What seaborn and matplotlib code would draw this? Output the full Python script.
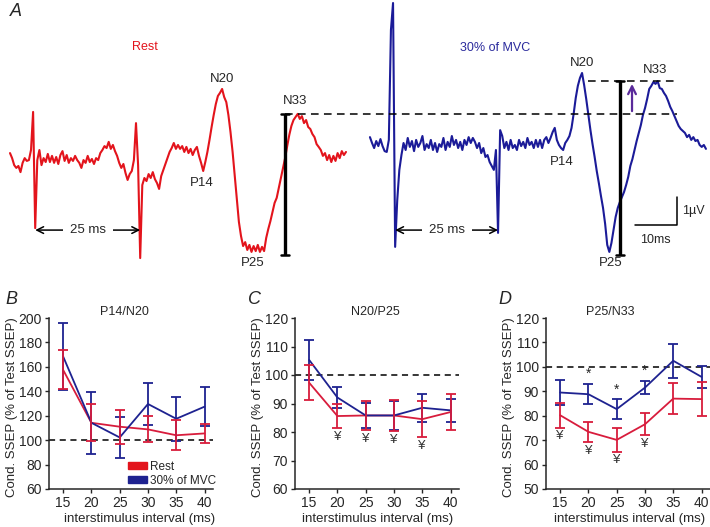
import numpy as np
import pandas as pd
import matplotlib
matplotlib.use("Agg")
import matplotlib.pyplot as plt
from matplotlib.patches import Patch
import seaborn as sns

sns.set_style("ticks")
plt.rcParams['font.family'] = ['Liberation Sans', 'DejaVu Sans']

RED = "#e3141c"
BLUE = "#1b1b98"
RED2 = "#d81c3c"
BLUE2 = "#1e2290"
PURPLE = "#5a2a9a"

# Panel A: averaged SSEP traces, one sample every 0.5 ms (amplitude in uV)
DT = 0.5
rest_uv = [0.14, -0.04, -0.29, -0.39, -0.32, -0.54, -0.21, -0.04, -0.14, -0.11,
           0.25, 1.61, -2.54, -0.11, 0.25, -0.29, -0.04, -0.18, 0.11, -0.18,
           0.04, -0.21, 0.00, -0.25, 0.07, 0.21, -0.14, 0.07, -0.21, -0.04,
           -0.14, 0.04, -0.11, -0.21, -0.39, -0.11, -0.21, 0.04, -0.18, -0.07,
           -0.25, -0.04, -0.11, 0.14, 0.25, 0.39, 0.32, 0.54, 0.29, 0.43,
           0.21, 0.04, -0.21, -0.39, -0.25, -0.57, -0.82, -0.61, -0.50, -0.11,
           1.21, -0.29, -3.61, -1.00, -0.75, -0.86, -0.61, -0.75, -0.54, -0.79,
           -0.93, -1.14, -0.68, -0.46, -0.25, -0.04, 0.18, 0.32, 0.50, 0.29,
           0.43, 0.29, 0.39, 0.18, 0.36, 0.14, 0.29, 0.07, 0.25, 0.36,
           0.04, -0.21, -0.50, -0.18, 0.18, 0.61, 1.07, 1.50, 1.89, 2.18,
           2.29, 2.43, 2.14, 1.96, 1.50, 0.89, 0.18, -0.64, -1.46, -2.32,
           -2.82, -3.18, -3.04, -3.32, -3.14, -3.39, -3.18, -3.36, -3.14, -3.39,
           -3.21, -3.36, -2.89, -2.57, -2.29, -1.96, -1.64, -1.46, -1.11, -0.75,
           -0.39, -0.04, 0.39, 0.79, 1.11, 1.32, 1.43, 1.54, 1.36, 1.46,
           1.21, 1.32, 1.07, 1.00, 0.82, 0.71, 0.46, 0.36, 0.25, 0.04,
           0.14, -0.11, 0.07, -0.18, 0.04, -0.14, 0.14, -0.04, 0.21, 0.07,
           0.18]
mvc_uv = [0.71, 0.50, 0.32, 0.57, 0.39, 0.64, 0.39, 0.21, 0.18, 0.61,
          4.54, 5.50, -3.21, -1.54, -0.46, 0.07, 0.50, 0.25, 0.68, 0.36,
          0.57, 0.21, 0.61, 0.36, 0.50, 0.75, 0.25, 0.46, 0.32, 0.61,
          0.25, 0.50, 0.18, 0.46, 0.36, 0.68, 0.25, 0.54, 0.36, 0.75,
          0.43, 0.61, 0.32, 0.54, 0.25, 0.61, 0.43, 0.71, 0.50, 0.68,
          0.54, 0.32, 0.50, 0.14, 0.32, 0.00, 0.07, -0.18, -0.32, -0.46,
          0.25, -2.71, 0.96, 0.75, 0.32, 0.54, 0.25, 0.61, 0.32, 0.43,
          0.25, 0.61, 0.39, 0.54, 0.32, 0.68, 0.43, 0.54, 0.32, 0.61,
          0.36, 0.61, 0.32, 0.61, 0.71, 0.50, 0.68, 0.89, 1.04, 0.61,
          0.43, 0.32, 0.25, 0.50, 0.61, 0.75, 1.04, 1.54, 2.11, 2.54,
          2.82, 3.00, 2.57, 2.07, 1.50, 0.96, 0.46, 0.00, -0.50, -0.93,
          -1.39, -1.82, -2.39, -3.14, -3.39, -3.07, -2.61, -2.14, -1.82, -1.61,
          -1.43, -1.25, -1.00, -0.71, -0.32, -0.07, 0.25, 0.57, 0.86, 1.14,
          1.50, 1.75, 2.07, 2.43, 2.54, 2.68, 2.61, 2.71, 2.46, 2.43,
          2.29, 2.18, 2.00, 1.79, 1.64, 1.46, 1.29, 1.11, 1.00, 0.93,
          0.86, 0.71, 0.79, 0.61, 0.71, 0.57, 0.61, 0.43, 0.36, 0.43,
          0.29]
MVC_SHIFT = 85.7  # ms, where the second trace starts in the layout

# Panels B-D: conditioned SSEP (% of test), mean and SEM
isi = [15, 20, 25, 30, 35, 40]
b_rest = [157.5, 114.2, 111.0, 108.8, 104.0, 105.5]
b_rest_err = [16.0, 15.3, 14.0, 10.7, 12.3, 8.0]
b_mvc = [168.5, 114.2, 102.2, 129.6, 117.5, 127.4]
b_mvc_err = [27.2, 25.4, 17.1, 17.3, 17.9, 15.8]

c_rest = [97.3, 85.6, 85.8, 85.8, 84.5, 87.0]
c_rest_err = [6.2, 4.2, 5.1, 5.5, 6.4, 6.2]
c_mvc = [105.3, 92.1, 85.8, 85.8, 88.5, 87.6]
c_mvc_err = [7.1, 3.6, 4.5, 5.0, 5.0, 4.0]

d_rest = [80.2, 73.4, 70.1, 76.5, 87.0, 86.8]
d_rest_err = [5.1, 4.1, 4.8, 4.5, 6.3, 7.0]
d_mvc = [89.5, 88.8, 82.7, 91.5, 102.5, 95.9]
d_mvc_err = [5.3, 4.2, 4.0, 2.8, 7.0, 4.6]

c_yen = [20, 25, 30, 35]
d_yen = [15, 20, 25, 30]
d_star = [20, 25, 30]

fig = plt.figure(figsize=(7.10, 5.27), dpi=100)

# ---------------- panel A ----------------
axA = fig.add_axes([0, 1 - 270 / 527, 1, 270 / 527])
axA.set_xlim(-10 / 4.2, 700 / 4.2)
axA.set_ylim(-113 / 28, 157 / 28)
axA.axis('off')

rest_uv = np.array(rest_uv)
mvc_uv = np.array(mvc_uv)
t_rest = np.arange(len(rest_uv)) * DT
t_mvc = np.arange(len(mvc_uv)) * DT + MVC_SHIFT

sns.lineplot(x=t_rest, y=rest_uv, ax=axA, color=RED, lw=1.5, estimator=None, sort=False)
sns.lineplot(x=t_mvc, y=mvc_uv, ax=axA, color=BLUE, lw=1.5, estimator=None, sort=False)


def peak(sig, lo, hi, fn):
    return lo + int(fn(sig[lo:hi]))


def label(t, sig, k, txt, dx, dy, va):
    axA.annotate(txt, (t[k], sig[k]), xytext=(dx, dy), textcoords='offset points',
                 ha='center', va=va, fontsize=9.5)


for t, sig in ((t_rest, rest_uv), (t_mvc, mvc_uv)):
    k20 = peak(sig, 90, 110, np.argmax)
    k14 = peak(sig, 85, 96, np.argmin)
    k25 = peak(sig, 105, 125, np.argmin)
    k33 = peak(sig, 125, 150, np.argmax)
    label(t, sig, k20, 'N20', 0, 3, 'bottom')
    label(t, sig, k14, 'P14', -1, -4, 'top')
    label(t, sig, k25, 'P25', 1, -4, 'top')
    label(t, sig, k33, 'N33', -2, 4 if t is t_mvc else 5, 'bottom')

n33_rest = rest_uv[125:150].max()
n33_mvc = mvc_uv[125:150].max()
p25_rest = rest_uv[105:125].min()
p25_mvc = mvc_uv[105:125].min()

# amplitude bars
for xb, top, bot in ((65.5, n33_rest, p25_rest - 0.1), (59.5 + MVC_SHIFT, n33_mvc, p25_mvc - 0.1)):
    axA.plot([xb, xb], [bot, top], color='black', lw=2.4, solid_capstyle='butt')
    for yy in (bot, top):
        axA.plot([xb - 1.0, xb + 1.0], [yy, yy], color='black', lw=1.8)

x_end = 73.1 + MVC_SHIFT
axA.plot([65.5, x_end], [n33_rest, n33_rest], color='black', lw=1.1, ls=(0, (5, 3.5)))
axA.plot([51.9 + MVC_SHIFT, x_end], [n33_mvc, n33_mvc], color='black', lw=1.1, ls=(0, (5, 3.5)))
axA.annotate('', xy=(62.4 + MVC_SHIFT, n33_mvc), xytext=(62.4 + MVC_SHIFT, n33_rest),
             arrowprops=dict(arrowstyle='->', color=PURPLE, lw=1.6, mutation_scale=14))

# 25 ms interval arrows
for t0, t1 in ((t_rest[12], t_rest[62]), (t_mvc[12], t_mvc[61])):
    axA.annotate('', xy=(t0, -2.61), xytext=(t1, -2.61),
                 arrowprops=dict(arrowstyle='<->', color='black', lw=1.1, mutation_scale=12,
                                 shrinkA=0, shrinkB=0))
    axA.text((t0 + t1) / 2, -2.61, '25 ms', ha='center', va='center', fontsize=9.5,
             bbox=dict(fc='white', ec='none', pad=5))

# scale bar
axA.plot([148.8, x_end, x_end], [-2.43, -2.43, -1.43], color='black', lw=1.1)
axA.text(x_end + 1.2, -1.93, '1\u00b5V', ha='left', va='center', fontsize=9)
axA.text(x_end - 5.2, -2.75, '10ms', ha='center', va='top', fontsize=9)

fig.text(10 / 710, 1 - 3 / 527, 'A', style='italic', fontsize=13, ha='left', va='top')
fig.text(145 / 710, 1 - 47 / 527, 'Rest', color=RED, fontsize=9, ha='center', va='center')
fig.text(495 / 710, 1 - 48 / 527, '30% of MVC', color='#2a2a9c', fontsize=9, ha='center', va='center')

# ---------------- panels B-D ----------------
def ssep_panel(rect, rest, rest_err, mvc, mvc_err, ylim, step, title, title_x, xlab_x):
    ax = fig.add_axes(rect)
    ax.axhline(100, color='black', lw=1.1, ls=(0, (4, 3)), zorder=1)
    df = pd.DataFrame({'isi': isi * 2, 'value': rest + mvc,
                       'condition': ['Rest'] * len(isi) + ['30% of MVC'] * len(isi)})
    sns.lineplot(data=df, x='isi', y='value', hue='condition',
                 palette={'Rest': RED2, '30% of MVC': BLUE2}, estimator=None,
                 lw=1.3, legend=False, ax=ax, zorder=3)
    ax.errorbar(isi, mvc, yerr=mvc_err, fmt='none', ecolor=BLUE2, elinewidth=1.3,
                capsize=3.5, capthick=1.3, zorder=3)
    ax.errorbar(isi, rest, yerr=rest_err, fmt='none', ecolor=RED2, elinewidth=1.3,
                capsize=3.5, capthick=1.3, zorder=4)
    ax.set_xlim(12.5, 41.5)
    ax.set_ylim(*ylim)
    ax.set_xticks(isi)
    ax.set_yticks(np.arange(ylim[0], ylim[1] + 1, step))
    ax.tick_params(labelsize=10, length=3, width=1, pad=2)
    sns.despine(ax=ax)
    for s in ('left', 'bottom'):
        ax.spines[s].set_linewidth(1.1)
    ax.set_xlabel('interstimulus interval (ms)', fontsize=9.5)
    ax.set_ylabel('Cond. SSEP (% of Test SSEP)', fontsize=9.5)
    ax.xaxis.set_label_coords(xlab_x, -0.14)
    ax.yaxis.set_label_coords(-0.19, 0.48)
    ax.text(title_x, 1.0, title, transform=ax.transAxes, ha='center', va='bottom', fontsize=9)
    return ax


top = 1 - 318 / 527
h = 171 / 527
w = 164 / 710
axB = ssep_panel([49 / 710, top - h, w, h], b_rest, b_rest_err, b_mvc, b_mvc_err,
                 (60, 200), 20, 'P14/N20', 0.463, 0.555)
axC = ssep_panel([295 / 710, top - h, w, h], c_rest, c_rest_err, c_mvc, c_mvc_err,
                 (60, 120), 10, 'N20/P25', 0.488, 0.506)
axD = ssep_panel([546 / 710, top - h, w, h], d_rest, d_rest_err, d_mvc, d_mvc_err,
                 (50, 120), 10, 'P25/N33', 0.39, 0.512)

handles = [Patch(color=RED, label='Rest'), Patch(color=BLUE2, label='30% of MVC')]
axB.legend(handles=handles, loc='lower left', bbox_to_anchor=(0.47, 0.0), frameon=False,
           fontsize=8.5, handlelength=1.6, handleheight=0.6, handletextpad=0.2,
           labelspacing=0.15, borderpad=0, borderaxespad=0.2)

# significance marks
for x in c_yen:
    i = isi.index(x)
    axC.annotate('\u00a5', (x, c_rest[i] - c_rest_err[i]), xytext=(0, -2), textcoords='offset points',
                 ha='center', va='top', fontsize=9.5, color='#333333')
for x in d_yen:
    i = isi.index(x)
    axD.annotate('\u00a5', (x, d_rest[i] - d_rest_err[i]), xytext=(0, -2), textcoords='offset points',
                 ha='center', va='top', fontsize=9.5, color='#333333')
for x in d_star:
    i = isi.index(x)
    axD.annotate('*', (x, d_mvc[i] + d_mvc_err[i]), xytext=(0, 2), textcoords='offset points',
                 ha='center', va='bottom', fontsize=10)

fig.text(5 / 710, 1 - 291 / 527, 'B', style='italic', fontsize=13, ha='left', va='top')
fig.text(248 / 710, 1 - 291 / 527, 'C', style='italic', fontsize=13, ha='left', va='top')
fig.text(498 / 710, 1 - 291 / 527, 'D', style='italic', fontsize=13, ha='left', va='top')

fig.savefig('out.png', dpi=100)
